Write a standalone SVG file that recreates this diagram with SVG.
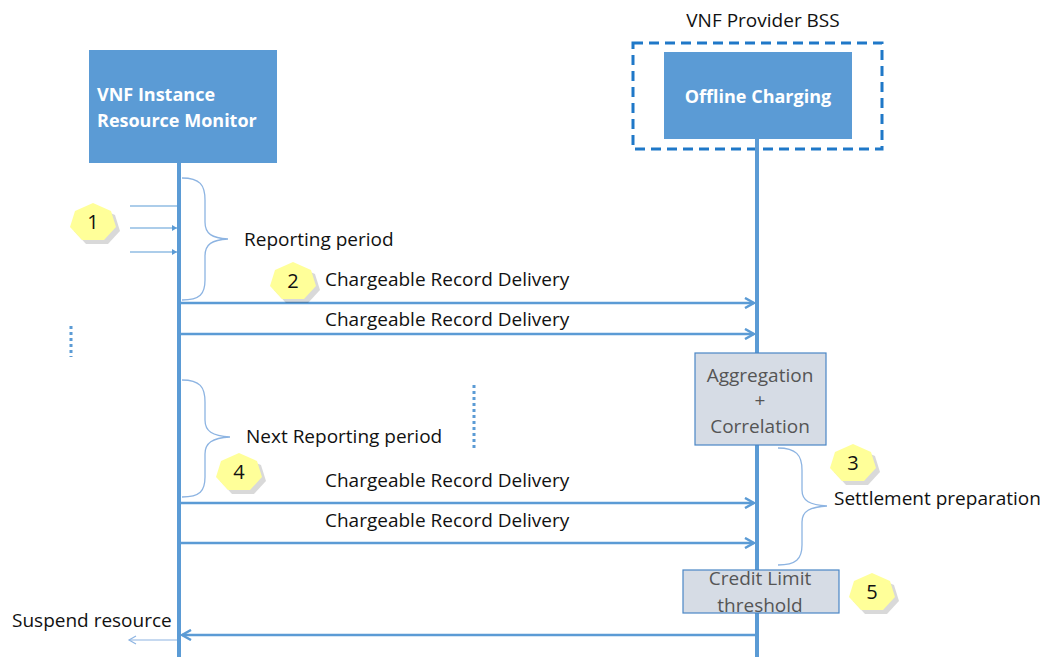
<svg xmlns="http://www.w3.org/2000/svg" width="1044" height="657" viewBox="0 0 1044 657">
<style>
.box{fill:#5b9bd5;}
.boxt{font-family:"Open Sans","Liberation Sans",sans-serif;font-weight:bold;fill:#fff;font-size:18px;}
.lbl{font-family:"Open Sans","Liberation Sans",sans-serif;font-size:19px;fill:#111;}
.gt{font-family:"Open Sans","Liberation Sans",sans-serif;font-size:19px;fill:#555;}
.life{stroke:#5b9bd5;stroke-width:4;fill:none;}
.msg{stroke:#5b9bd5;stroke-width:2.5;fill:none;marker-end:url(#ah);}
.thin{stroke:#5b9bd5;stroke-width:1.2;fill:none;}
.brace{stroke:#8db4e2;stroke-width:1.3;fill:none;}
.gbox{fill:#d6dce5;stroke:#4a86c5;stroke-width:1.2;}
.badge{fill:#ffff99;}
.bsh{fill:#000;opacity:0.15;}
.num{font-family:"Open Sans","Liberation Sans",sans-serif;font-size:20px;fill:#111;text-anchor:middle;}
.dots{stroke:#5b9bd5;stroke-width:3;stroke-dasharray:3 3;fill:none;}
</style>
<defs>
<marker id="ah" markerWidth="12" markerHeight="12" refX="10" refY="6" orient="auto" markerUnits="userSpaceOnUse">
<path d="M1,1 L10,6 L1,11" fill="none" stroke="#5b9bd5" stroke-width="2.5"/>
</marker>
<marker id="ahs" markerWidth="10" markerHeight="10" refX="8" refY="5" orient="auto" markerUnits="userSpaceOnUse">
<path d="M1,1 L8,5 L1,9" fill="none" stroke="#8db4e2" stroke-width="1.2"/>
</marker>
<marker id="tick" markerWidth="6" markerHeight="8" refX="5" refY="4" orient="auto" markerUnits="userSpaceOnUse">
<path d="M0,1 L5,4 L0,7 Z" fill="#5b9bd5"/>
</marker>
<path id="hept" d="M0,-19 L18,-11 L23,5 L11,18 L-11,18 L-23,5 L-18,-11 Z"/>
</defs>

<g id="monitor">
<rect class="box" x="89" y="50" width="188" height="113"/>
<text class="boxt" x="97" y="101">VNF Instance</text>
<text class="boxt" x="97" y="127">Resource Monitor</text>
<line class="life" x1="179" y1="163" x2="179" y2="657"/>
</g>

<g id="bss">
<text class="lbl" x="763" y="27" text-anchor="middle">VNF Provider BSS</text>
<rect x="633" y="43" width="249" height="106" fill="none" stroke="#1f78c8" stroke-width="3" stroke-dasharray="10 6"/>
</g>

<g id="offline">
<rect class="box" x="664" y="52" width="188" height="87"/>
<text class="boxt" x="758" y="103" text-anchor="middle">Offline Charging</text>
<line class="life" x1="757" y1="139" x2="757" y2="657"/>
</g>

<g id="aggregation">
<rect class="gbox" x="695" y="353" width="131" height="92"/>
<text class="gt" x="760" y="382" text-anchor="middle">Aggregation</text>
<text class="gt" x="760" y="407" text-anchor="middle">+</text>
<text class="gt" x="760" y="433" text-anchor="middle">Correlation</text>
</g>

<g id="credit">
<rect class="gbox" x="683" y="570" width="156" height="43"/>
<text class="gt" x="760" y="585" text-anchor="middle">Credit Limit</text>
<text class="gt" x="760" y="612" text-anchor="middle">threshold</text>
</g>

<g id="connectors">
<line class="thin" x1="130" y1="206" x2="179" y2="206"/>
<line class="thin" x1="130" y1="228" x2="177" y2="228" marker-end="url(#tick)"/>
<line class="thin" x1="130" y1="252" x2="177" y2="252" marker-end="url(#tick)"/>
<line class="msg" x1="181" y1="303" x2="754" y2="303"/>
<line class="msg" x1="181" y1="334" x2="754" y2="334"/>
<line class="msg" x1="181" y1="503" x2="754" y2="503"/>
<line class="msg" x1="181" y1="543" x2="754" y2="543"/>
<line class="msg" x1="755" y1="635" x2="182" y2="635"/>
<line x1="177" y1="640" x2="129" y2="640" stroke="#8db4e2" stroke-width="1.2" marker-end="url(#ahs)"/>
<line class="dots" x1="71" y1="326" x2="71" y2="357"/>
<line class="dots" x1="474" y1="385" x2="474" y2="451"/>
</g>

<g id="braces">
<path class="brace" d="M182,178 C200,178 205,185 205,200 L205,222 C205,234 212,238 228,239 C212,240 205,244 205,256 L205,280 C205,294 200,300 182,300"/>
<path class="brace" d="M182,380 C200,380 205,387 205,402 L205,420 C205,431 212,436 230,437 C212,438 205,443 205,454 L205,477 C205,491 200,497 182,497"/>
<path class="brace" d="M778,448 C796,448 802,455 802,470 L802,490 C802,501 810,505 827,506 C810,507 802,511 802,522 L802,545 C802,559 796,565 778,565"/>
</g>

<g id="labels">
<text class="lbl" x="244" y="246">Reporting period</text>
<text class="lbl" x="325" y="286">Chargeable Record Delivery</text>
<text class="lbl" x="325" y="326">Chargeable Record Delivery</text>
<text class="lbl" x="246" y="443">Next Reporting period</text>
<text class="lbl" x="325" y="487">Chargeable Record Delivery</text>
<text class="lbl" x="325" y="527">Chargeable Record Delivery</text>
<text class="lbl" x="834" y="505">Settlement preparation</text>
<text class="lbl" x="12" y="627">Suspend resource</text>
</g>

<g id="badge1"><use href="#hept" class="bsh" transform="translate(97,226)"/><use href="#hept" class="badge" transform="translate(93,222)"/><text class="num" x="93" y="229">1</text></g>
<g id="badge2"><use href="#hept" class="bsh" transform="translate(297,285)"/><use href="#hept" class="badge" transform="translate(293,281)"/><text class="num" x="293" y="288">2</text></g>
<g id="badge3"><use href="#hept" class="bsh" transform="translate(857,467)"/><use href="#hept" class="badge" transform="translate(853,463)"/><text class="num" x="853" y="470">3</text></g>
<g id="badge4"><use href="#hept" class="bsh" transform="translate(243,476)"/><use href="#hept" class="badge" transform="translate(239,472)"/><text class="num" x="239" y="479">4</text></g>
<g id="badge5"><use href="#hept" class="bsh" transform="translate(876,596)"/><use href="#hept" class="badge" transform="translate(872,592)"/><text class="num" x="872" y="599">5</text></g>
</svg>
